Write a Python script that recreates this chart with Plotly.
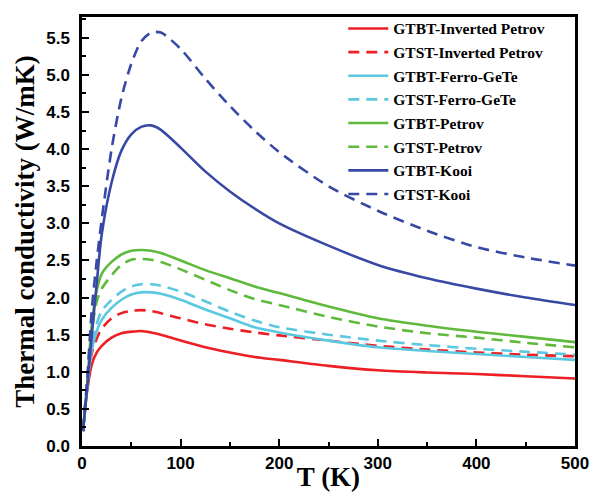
import plotly.graph_objects as go

T = [1, 5, 10, 15, 20, 30, 40, 50, 60, 70, 80, 100, 125, 150, 175, 200, 250, 300, 350, 400, 450, 500]

gtbt_inv_petrov = [0.2, 0.72, 1.10, 1.26, 1.35, 1.46, 1.52, 1.54, 1.55, 1.53, 1.50, 1.42, 1.33, 1.26, 1.20, 1.16, 1.08, 1.02, 0.99, 0.97, 0.94, 0.91]
gtst_inv_petrov = [0.2, 0.80, 1.25, 1.45, 1.58, 1.72, 1.79, 1.82, 1.83, 1.82, 1.79, 1.72, 1.64, 1.58, 1.53, 1.49, 1.42, 1.35, 1.30, 1.26, 1.23, 1.21]
gtbt_ferro = [0.2, 0.75, 1.30, 1.55, 1.70, 1.86, 1.97, 2.04, 2.07, 2.07, 2.05, 1.97, 1.84, 1.72, 1.60, 1.53, 1.42, 1.33, 1.28, 1.24, 1.20, 1.16]
gtst_ferro = [0.2, 0.75, 1.35, 1.65, 1.82, 1.97, 2.08, 2.15, 2.18, 2.18, 2.16, 2.08, 1.95, 1.81, 1.69, 1.60, 1.50, 1.42, 1.36, 1.31, 1.27, 1.23]
gtbt_petrov = [0.2, 0.80, 1.65, 2.10, 2.32, 2.48, 2.58, 2.63, 2.64, 2.63, 2.60, 2.50, 2.37, 2.26, 2.15, 2.06, 1.88, 1.72, 1.62, 1.54, 1.47, 1.40]
gtst_petrov = [0.2, 0.80, 1.55, 1.95, 2.12, 2.30, 2.44, 2.51, 2.52, 2.51, 2.48, 2.38, 2.24, 2.10, 1.98, 1.90, 1.74, 1.61, 1.52, 1.46, 1.39, 1.33]
gtbt_kooi = [0.2, 0.75, 1.50, 2.20, 2.85, 3.55, 3.98, 4.20, 4.30, 4.32, 4.26, 4.02, 3.70, 3.43, 3.20, 3.00, 2.70, 2.44, 2.26, 2.12, 2.00, 1.90]
gtst_kooi = [0.2, 0.85, 1.85, 2.50, 3.05, 4.00, 4.69, 5.15, 5.45, 5.57, 5.57, 5.35, 4.95, 4.58, 4.25, 3.96, 3.50, 3.17, 2.90, 2.68, 2.54, 2.43]

names = ["GTBT-Inverted Petrov", "GTST-Inverted Petrov", "GTBT-Ferro-GeTe", "GTST-Ferro-GeTe",
         "GTBT-Petrov", "GTST-Petrov", "GTBT-Kooi", "GTST-Kooi"]
series = [gtbt_inv_petrov, gtst_inv_petrov, gtbt_ferro, gtst_ferro,
          gtbt_petrov, gtst_petrov, gtbt_kooi, gtst_kooi]
colors = ["rgb(237,30,36)", "rgb(237,30,36)", "rgb(90,200,222)", "rgb(90,200,222)",
          "rgb(95,185,60)", "rgb(95,185,60)", "rgb(55,72,165)", "rgb(55,72,165)"]
dashes = ["solid", "11px,7px"] * 4

fig = go.Figure()
for i, (n, ys, c, d) in enumerate(zip(names, series, colors, dashes)):
    fig.add_trace(go.Scatter(x=T, y=ys, name=n, mode="lines", legendgroup=f"g{i}",
                             line=dict(color=c, width=2.6, dash=d, shape="spline", smoothing=0.8)))

tickfont = dict(family="Liberation Sans", size=17, color="black", weight="bold")
titlefont = dict(family="Liberation Serif", size=27, color="black", weight="bold")

fig.update_layout(
    width=589, height=492,
    margin=dict(l=82, r=14, t=15, b=46),
    paper_bgcolor="white", plot_bgcolor="white",
    showlegend=True,
    legend=dict(x=0.53, y=1.012, xanchor="left", yanchor="top",
                font=dict(family="Liberation Serif", size=15.5, color="black", weight="bold"),
                bgcolor="rgba(0,0,0,0)", borderwidth=0, tracegroupgap=0.5, itemwidth=40),
    xaxis=dict(range=[0, 500], tickvals=[0, 100, 200, 300, 400, 500], automargin=False,
               ticklabeloverflow="allow",
               ticks="inside", ticklen=7, tickwidth=2, tickcolor="black",
               minor=dict(ticks="inside", ticklen=4, tickwidth=2, tickcolor="black", dtick=50, showgrid=False),
               showline=True, linewidth=2.5, linecolor="black", mirror=True,
               showgrid=False, zeroline=False, tickfont=tickfont,
               title=dict(text="T (K)", font=titlefont, standoff=2)),
    yaxis=dict(range=[0, 5.78], tickvals=[0, 0.5, 1, 1.5, 2, 2.5, 3, 3.5, 4, 4.5, 5, 5.5],
               tickformat=".1f", automargin=False, ticklabeloverflow="allow",
               ticks="inside", ticklen=7, tickwidth=2, tickcolor="black",
               minor=dict(ticks="inside", ticklen=4, tickwidth=2, tickcolor="black", dtick=0.25, showgrid=False),
               showline=True, linewidth=2.5, linecolor="black", mirror=True,
               showgrid=False, zeroline=False, tickfont=tickfont, ticklabelstandoff=6,
               title=dict(text="Thermal conductivity (W/mK)", font=titlefont, standoff=4)),
)

fig.write_html("out.html")
